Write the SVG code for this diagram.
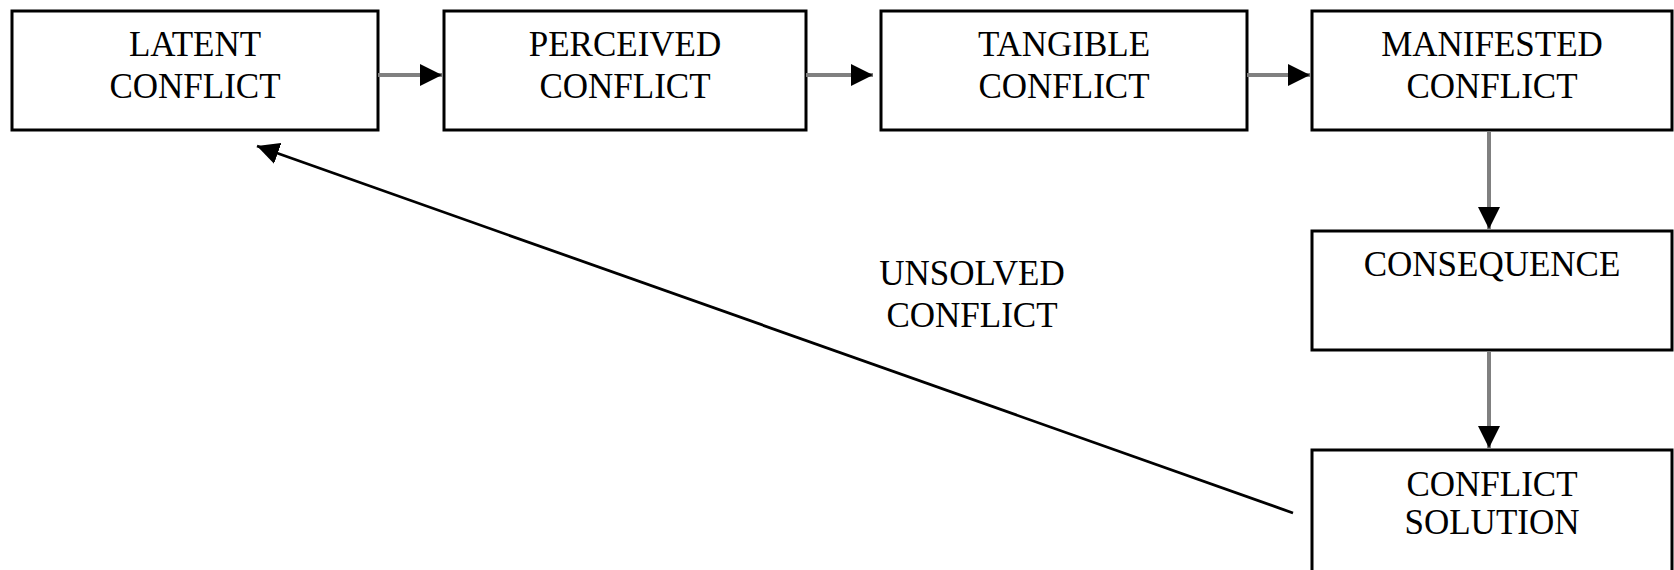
<svg xmlns="http://www.w3.org/2000/svg" width="1674" height="570" viewBox="0 0 1674 570">
<style>
.box{fill:#fff;stroke:#000;stroke-width:3}
.t{font-family:"Liberation Serif","Times New Roman",serif;font-size:35px;fill:#000;text-anchor:middle}
.g{stroke:#808080;stroke-width:4;fill:none}
.k{stroke:#000;stroke-width:2.8;fill:none}
</style>
<defs>
<marker id="ah" markerUnits="userSpaceOnUse" markerWidth="22" markerHeight="22" viewBox="0 0 20 20" refX="20" refY="10" orient="auto">
<polygon points="0,0 20,10 0,20" fill="#000"/>
</marker>
</defs>
<rect width="1674" height="570" fill="#fff"/>
<g id="n1"><rect class="box" x="12" y="11" width="366" height="119"/><text class="t" x="195" y="56">LATENT</text><text class="t" x="195" y="98">CONFLICT</text></g>
<g id="n2"><rect class="box" x="444" y="11" width="362" height="119"/><text class="t" x="625" y="56">PERCEIVED</text><text class="t" x="625" y="98">CONFLICT</text></g>
<g id="n3"><rect class="box" x="881" y="11" width="366" height="119"/><text class="t" x="1064" y="56">TANGIBLE</text><text class="t" x="1064" y="98">CONFLICT</text></g>
<g id="n4"><rect class="box" x="1312" y="11" width="360" height="119"/><text class="t" x="1492" y="56">MANIFESTED</text><text class="t" x="1492" y="98">CONFLICT</text></g>
<g id="n5"><rect class="box" x="1312" y="231" width="360" height="119"/><text class="t" x="1492" y="276">CONSEQUENCE</text></g>
<g id="n6"><rect class="box" x="1312" y="450" width="360" height="130"/><text class="t" x="1492" y="496">CONFLICT</text><text class="t" x="1492" y="534">SOLUTION</text></g>
<g id="connectors">
<line class="g" x1="378" y1="75" x2="442" y2="75" marker-end="url(#ah)"/>
<line class="g" x1="806" y1="75" x2="873" y2="75" marker-end="url(#ah)"/>
<line class="g" x1="1247" y1="75" x2="1310" y2="75" marker-end="url(#ah)"/>
<line class="g" x1="1489" y1="131" x2="1489" y2="229" marker-end="url(#ah)"/>
<line class="g" x1="1489" y1="351" x2="1489" y2="448" marker-end="url(#ah)"/>
<line class="k" x1="1293" y1="513" x2="257" y2="146" marker-end="url(#ah)"/>
<text class="t" x="972" y="285">UNSOLVED</text>
<text class="t" x="972" y="327">CONFLICT</text>
</g>
</svg>
